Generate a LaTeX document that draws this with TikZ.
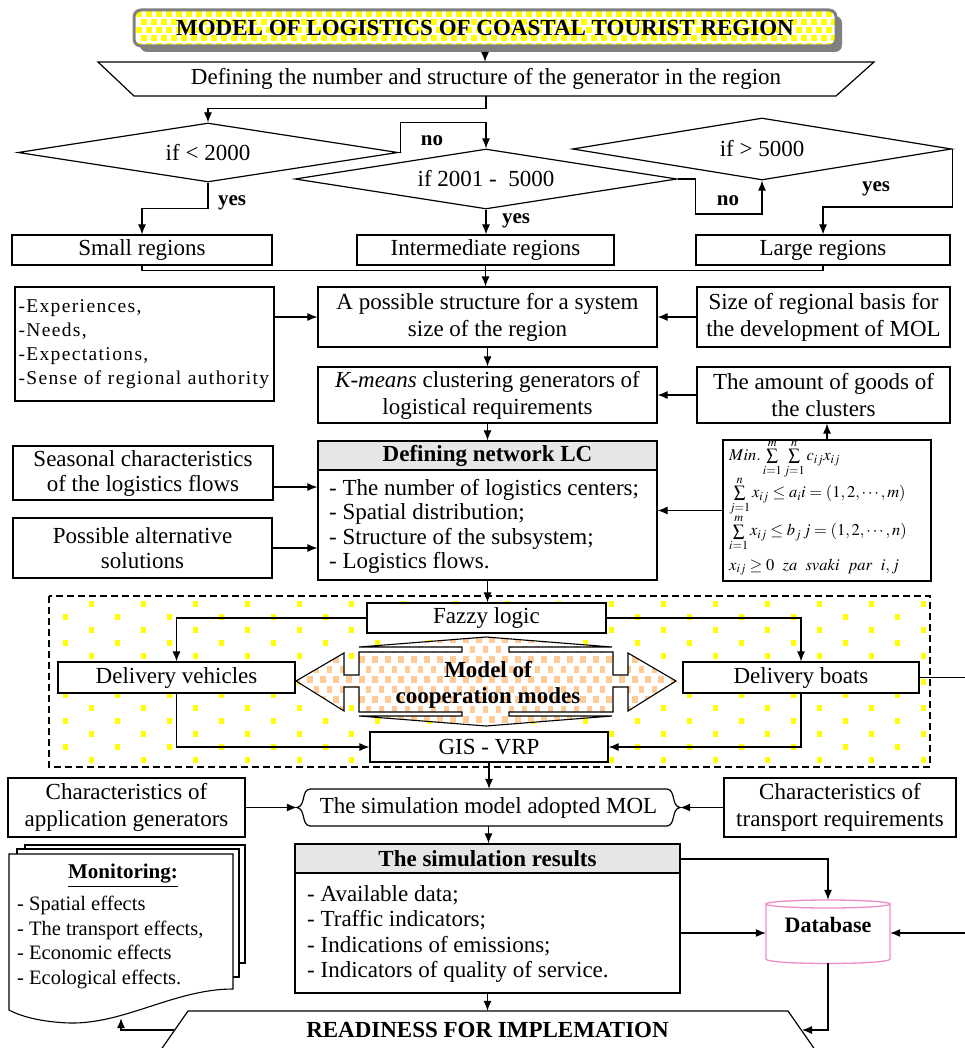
\documentclass[tikz,border=0pt]{standalone}
\usepackage{mathptmx}
\usepackage{fontspec}
\setmainfont{Liberation Serif}
\newfontfamily\spacedfont{Liberation Serif}[LetterSpace=7]
\usetikzlibrary{arrows.meta,shapes.geometric}
\newcommand\mainfs{\fontsize{23}{27}\selectfont}
\newcommand\smallfs{\fontsize{21}{24.5}\selectfont}
\definecolor{ygold}{RGB}{255,255,0}
\definecolor{peach}{RGB}{255,204,153}
\definecolor{hdrgray}{RGB}{230,230,230}
\definecolor{dbpink}{RGB}{240,140,200}
\definecolor{shadowgray}{RGB}{128,128,128}
\begin{document}
\begin{tikzpicture}[x=1pt,y=-1pt,
 box/.style={draw, line width=1.2pt, fill=white, inner sep=0pt, align=center, font=\mainfs},
 txt/.style={inner sep=0pt, align=center, font=\mainfs},
 arr/.style={line width=1.1pt, -{Latex[length=10pt,width=8pt]}},
 ln/.style={line width=1.1pt},
 lbl/.style={inner sep=0pt, font=\bfseries\fontsize{21}{24}\selectfont},
 dia/.style={diamond, draw, line width=1.2pt, fill=white, inner sep=0pt, aspect=6.4, font=\mainfs},
 ftxt/.style={inner sep=0pt, anchor=west, font=\fontsize{16.5}{19}\selectfont},
]
\useasboundingbox (0,0) rectangle (965,1048);
\fill[white] (0,0) rectangle (965,1048);

% ---------- title ----------
\fill[shadowgray, rounded corners=7pt] (140,16) rectangle (842,52);
\fill[white, rounded corners=7pt] (134,10) rectangle (836,46);
\begin{scope}
\clip[rounded corners=7pt] (134,10) rectangle (836,46);
\foreach \r in {0,...,4}{
  \pgfmathsetmacro\yy{11+8*\r}
  \pgfmathsetmacro\off{mod(\r,2)*5}
  \foreach \c in {0,...,70}{
    \fill[ygold] (136+\off+10*\c,\yy) rectangle ++(5.5,6);
  }
}
\end{scope}
\draw[shadowgray, line width=3pt, rounded corners=7pt] (134,10) rectangle (836,46);
\node[txt, font=\bfseries\mainfs, minimum width=702pt, minimum height=36pt] (title) at (485,28) {MODEL OF LOGISTICS OF COASTAL TOURIST REGION};

% ---------- defining trapezoid ----------
\draw[line width=1.2pt, fill=white] (98,62) -- (874,62) -- (836,96) -- (134,96) -- cycle;
\node[txt, minimum width=700pt, minimum height=34pt] (def) at (486,79) {Defining the number and structure of the generator in the region};

% ---------- diamonds ----------
\node[dia, minimum width=380pt, minimum height=59pt] (d1) at (208,152.5) {if < 2000};
\node[dia, minimum width=382pt, minimum height=60pt] (d2) at (486,179) {if 2001 - \ 5000};
\node[dia, minimum width=379pt, minimum height=62pt] (d3) at (762,149) {if > 5000};

\node[lbl] (no1) at (432,141) {no};
\node[lbl] (yes1) at (232,203) {yes};
\node[lbl] (yes2) at (516,221) {yes};
\node[lbl] (no2) at (728,201) {no};
\node[lbl] (yes3) at (876,189) {yes};

% ---------- region boxes ----------
\node[box, minimum width=260pt, minimum height=30pt] (small) at (142,250) {Small regions};
\node[box, minimum width=257pt, minimum height=30pt] (inter) at (485.5,250) {Intermediate regions};
\node[box, minimum width=254pt, minimum height=30pt] (large) at (823,250) {Large regions};

% ---------- middle ----------
\node[box, minimum width=259pt, minimum height=114pt, text width=252pt, align=left, font=\spacedfont\fontsize{19.5}{24}\selectfont] (list) at (144.5,344) {-Experiences,\\-Needs,\\-Expectations,\\-Sense of regional authority};
\node[box, minimum width=339pt, minimum height=60pt] (poss) at (487.5,317) {A possible structure for a system\\size of the region};
\node[box, minimum width=253pt, minimum height=60pt] (sizeb) at (823.5,317) {Size of regional basis for\\the development of MOL};
\node[box, minimum width=339pt, minimum height=56pt] (kmeans) at (487.5,395) {\textit{K-means} clustering generators of\\logistical requirements};
\node[box, minimum width=253pt, minimum height=56pt] (goods) at (823.5,395) {The amount of goods of\\the clusters};

\node[box, minimum width=260pt, minimum height=54pt, font=\fontsize{23}{25}\selectfont] (seas) at (143,473) {Seasonal characteristics\\of the logistics flows};
\node[box, minimum width=259pt, minimum height=60pt, font=\fontsize{23}{25}\selectfont] (alt) at (142.5,548) {Possible alternative\\solutions};

\fill[hdrgray] (318,441) rectangle (657,470);
\node[box, fill=none, minimum width=339pt, minimum height=139pt] (netw) at (487.5,510.5) {};
\draw[line width=1.2pt] (318,470) -- (657,470);
\node[txt, font=\bfseries\mainfs] (netwh) at (487.5,456) {Defining network LC};
\node[txt, align=left, anchor=west, font=\fontsize{23}{24.5}\selectfont] (netwi) at (329,526.5) {- The number of logistics centers;\\- Spatial distribution;\\- Structure of the subsystem;\\- Logistics flows.};

\node[box, minimum width=208pt, minimum height=141pt] (form) at (827,510.5) {};
\node[ftxt] (f1) at (729,459) {$Min.\sum\limits_{i=1}^{m}\sum\limits_{j=1}^{n}c_{ij}x_{ij}$};
\node[ftxt] (f2) at (729,496) {$\sum\limits_{j=1}^{n}x_{ij}\le a_i i=(1,2,\cdots,m)$};
\node[ftxt] (f3) at (729,533) {$\sum\limits_{i=1}^{m}x_{ij}\le b_j\, j=(1,2,\cdots,n)$};
\node[ftxt] (f4) at (729,567) {$x_{ij}\ge 0\ \ za\ \ svaki\ \ par\ \ i,j$};

% ---------- dotted region ----------
\begin{scope}
\clip (49,596) rectangle (930,767);
\foreach \r in {0,...,13}{
  \pgfmathsetmacro\yy{591+13*\r}
  \pgfmathsetmacro\xo{39+26*(1-mod(\r,2))}
  \foreach \c in {0,...,17}{
    \fill[ygold] (\xo+52*\c-2.5,\yy-3) rectangle ++(5.5,6);
  }
}
\end{scope}
\draw[line width=1.2pt, dash pattern=on 7pt off 4pt] (49,596) rectangle (930,767);

\def\quadpath{(296,681) -- (344,653) -- (344,675) -- (359,675) -- (359,652) -- (462,652) -- (462,647) -- (359,647) -- (486,637) -- (612,647) -- (509,647) -- (509,652) -- (613,652) -- (613,675) -- (628,675) -- (628,653) -- (676,681) -- (628,711) -- (628,687) -- (613,687) -- (613,712) -- (509,712) -- (509,716) -- (612,716) -- (486,726) -- (359,716) -- (462,716) -- (462,712) -- (359,712) -- (359,687) -- (344,687) -- (344,711) -- cycle}
\fill[white] \quadpath;
\begin{scope}
\clip \quadpath;
\foreach \r in {0,...,9}{
  \pgfmathsetmacro\yy{636+10*\r}
  \pgfmathsetmacro\off{mod(\r,2)*6.5}
  \foreach \c in {0,...,30}{
    \fill[peach] (294+\off+13*\c,\yy) rectangle ++(5.5,6.5);
  }
}
\end{scope}
\draw[line width=1.1pt, line join=miter] \quadpath;
\node[txt, font=\bfseries\fontsize{23}{26}\selectfont] (coop) at (488,685) {Model of\\cooperation modes};

\node[box, minimum width=239pt, minimum height=30pt] (fazzy) at (486.5,618) {Fazzy logic};
\node[box, minimum width=237pt, minimum height=31pt] (dv) at (176.5,677.5) {Delivery vehicles};
\node[box, minimum width=236pt, minimum height=31pt] (dbo) at (801,677.5) {Delivery boats};
\node[box, minimum width=238pt, minimum height=30pt] (gis) at (489,747) {GIS - VRP};

% ---------- bottom ----------
\node[box, minimum width=237pt, minimum height=59pt] (cag) at (126.5,807.5) {Characteristics of\\application generators};
\node[box, minimum width=232pt, minimum height=59pt] (ctr) at (840,807.5) {Characteristics of\\transport requirements};
\draw[line width=1.2pt, fill=white] (310,789) -- (667,789) .. controls (676,790) and (671,806) .. (680,807.5) .. controls (671,809) and (676,825) .. (667,826) -- (310,826) .. controls (301,825) and (306,809) .. (297,807.5) .. controls (306,806) and (301,790) .. (310,789) -- cycle;
\node[txt, minimum width=383pt, minimum height=37pt] (sim) at (488.5,807.5) {The simulation model adopted MOL};

\fill[hdrgray] (295,844) rectangle (680,873);
\node[box, fill=none, minimum width=385pt, minimum height=149pt] (res) at (487.5,918.5) {};
\draw[line width=1.2pt] (295,873) -- (680,873);
\node[txt, font=\bfseries\mainfs] (resh) at (487.5,858.5) {The simulation results};
\node[txt, align=left, anchor=west, font=\fontsize{23}{25.3}\selectfont] (resi) at (307,934) {- Available data;\\- Traffic indicators;\\- Indications of emissions;\\- Indicators of quality of service.};

\draw[dbpink, line width=1.3pt, fill=white] (766,904) -- (766,959) .. controls (766,965) and (890,965) .. (890,959) -- (890,904);
\draw[dbpink, line width=1.3pt] (828,904) ellipse [x radius=62, y radius=4];
\node[inner sep=0pt, minimum width=124pt, minimum height=63pt] (db) at (828,931.5) {};
\node[txt, font=\bfseries\fontsize{22}{26}\selectfont] (dbt) at (828,925) {Database};

% monitoring document
\draw[line width=1.1pt, fill=white] (25,849) -- (25,845) -- (245,845) -- (245,963) -- (239,963);
\draw[line width=1.1pt, fill=white] (17,854) -- (17,849) -- (239,849) -- (239,977) -- (233,977);
\draw[line width=1.1pt, fill=white] (9,854) -- (233,854) -- (233,989) .. controls (175,989) and (125,1024) .. (70,1023) .. controls (40,1022) and (20,1016) .. (9,1010) -- cycle;
\node[inner sep=0pt, minimum width=224pt, minimum height=164pt] (mon) at (121,936) {};
\node[txt, font=\bfseries\fontsize{21}{24}\selectfont] (mont) at (123,876) {\underline{Monitoring:}};
\node[txt, align=left, anchor=west, font=\fontsize{20.5}{24.5}\selectfont] (monl) at (17,942.5) {- Spatial effects\\- The transport effects,\\- Economic effects\\- Ecological effects.};

% readiness
\draw[line width=1.2pt, fill=white] (158,1054) -- (188,1011) -- (788,1011) -- (818,1054);
\node[txt, font=\bfseries\mainfs, minimum width=600pt, minimum height=38pt] (ready) at (487.5,1030) {READINESS FOR IMPLEMATION};

% ---------- connectors ----------
\draw[arr] ([yshift=-6pt]title.south) -- (title.south |- def.north);
\draw[arr] (def.south) -- ++(0,12) -| (d1.north);
\draw[arr] (d1.east) -- ++(2,0) -- ++(0,-30) -| (d2.north);
\draw[arr] (d1.south) -- ++(0,26) -| (small.north);
\draw[arr] (d2.south) -- (d2.south |- inter.north);
\draw[arr] (d2.east) -- ++(18,0) -- ++(0,35) -| (d3.south);
\draw[arr] (d3.east) -- ++(0,58) -| (large.north);

\draw[ln] (small.south) -- ++(0,5) -| (large.south);
\draw[arr] (inter.south) -- (inter.south |- poss.north);
\draw[arr] (list.east |- poss.west) -- (poss.west);
\draw[arr] (sizeb.west) -- (poss.east);
\draw[arr] (poss.south) -- (kmeans.north);
\draw[arr] (goods.west) -- (kmeans.east);
\draw[arr] (form.north) -- (form.north |- goods.south);
\draw[arr] (kmeans.south) -- (netw.north);
\draw[arr] (seas.east |- 0,487) -- (netw.west |- 0,487);
\draw[arr] (alt.east) -- (alt.east -| netw.west);
\draw[arr] (form.west) -- (netw.east);

\draw[arr] (netw.south) -- (netw.south |- fazzy.north);
\draw[arr] (fazzy.west) -| (dv.north);
\draw[arr] (fazzy.east) -| (dbo.north);
\draw[arr] (dv.south) |- (gis.west);
\draw[arr] (dbo.south) |- (gis.east);
\coordinate (edgeR1) at (965,677.5);
\draw[ln] (dbo.east) -- (edgeR1);

\draw[arr] (gis.south) -- (gis.south |- sim.north);
\draw[arr] (cag.east) -- (sim.west);
\draw[arr] (ctr.west) -- (sim.east);
\draw[arr] (sim.south) -- (sim.south |- res.north);
\draw[arr] (res.north east |- 0,859) -| (db.north);
\draw[arr] (res.east |- 0,933) -- (db.west |- 0,933);
\coordinate (edgeR2) at (965,933);
\draw[arr] (edgeR2) -- (edgeR2 -| db.east);
\coordinate (rr) at (802,1030);
\draw[arr] (db.south) |- (rr);
\draw[arr] (res.south) -- (res.south |- ready.north);
\coordinate (rl) at (174,1030);
\draw[arr] (rl) -| (mon.south);
\end{tikzpicture}
\end{document}
